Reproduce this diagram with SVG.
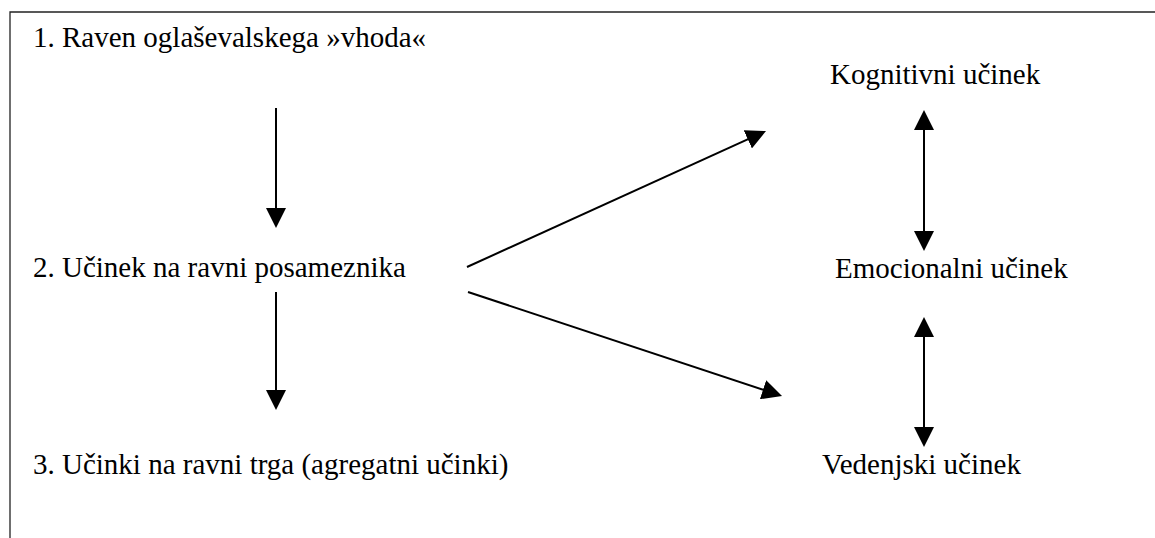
<svg xmlns="http://www.w3.org/2000/svg" width="1155" height="538" viewBox="0 0 1155 538">
<style>
text{font-family:"Liberation Serif","Times New Roman",serif;font-size:29px;fill:#000}
.frame{stroke:#222;stroke-width:1.3;fill:none}
.conn line{stroke:#000;stroke-width:2;fill:none}
</style>
<defs>
<marker id="ah" markerUnits="userSpaceOnUse" markerWidth="20" markerHeight="20" refX="1" refY="10" orient="auto-start-reverse" viewBox="0 0 20 20">
<path d="M0,0 L20,10 L0,20 z" fill="#000"/>
</marker>
</defs>
<rect width="1155" height="538" fill="#fff"/>
<path class="frame" d="M10,538 L10,12 L1155,12"/>
<g id="n1"><text x="33" y="47">1. Raven oglaševalskega »vhoda«</text></g>
<g id="n2"><text x="33" y="277">2. Učinek na ravni posameznika</text></g>
<g id="n3"><text x="33" y="474">3. Učinki na ravni trga (agregatni učinki)</text></g>
<g id="kog"><text x="830" y="84">Kognitivni učinek</text></g>
<g id="emo"><text x="835" y="278">Emocionalni učinek</text></g>
<g id="ved"><text x="822" y="474">Vedenjski učinek</text></g>
<g class="conn" id="connectors">
<line x1="276" y1="108" x2="276" y2="209" marker-end="url(#ah)"/>
<line x1="276" y1="292" x2="276" y2="391" marker-end="url(#ah)"/>
<line x1="467" y1="267" x2="748.7" y2="138.9" marker-end="url(#ah)"/>
<line x1="468" y1="292" x2="764" y2="390" marker-end="url(#ah)"/>
<line x1="924" y1="129" x2="924" y2="232" marker-start="url(#ah)" marker-end="url(#ah)"/>
<line x1="924" y1="336" x2="924" y2="428" marker-start="url(#ah)" marker-end="url(#ah)"/>
</g>
</svg>
